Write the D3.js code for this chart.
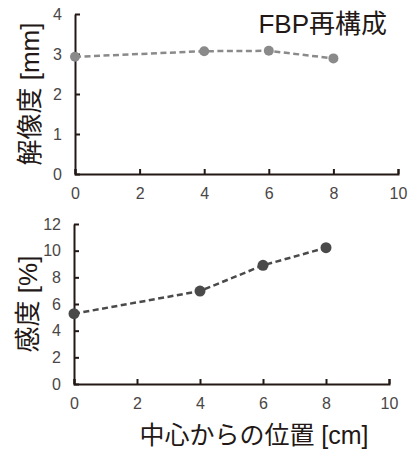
<!DOCTYPE html>
<html>
<head>
<meta charset="utf-8">
<script src="https://cdn.jsdelivr.net/npm/d3@7"></script>
<style>
  body { margin: 0; background: #fff; }
  text { font-family: "Liberation Sans", Arial, "Noto Sans CJK JP", sans-serif; }
</style>
</head>
<body>
<div id="chart"></div>
<script>
// positions from center [cm]
const positions = [0, 4, 6, 8];
const resolution = [2.93, 3.07, 3.08, 2.89];   // mm
const sensitivity = [5.27, 6.97, 8.9, 10.22];  // %
const xTicks = [0, 2, 4, 6, 8, 10];
const resTicks = [0, 1, 2, 3, 4];
const sensTicks = [0, 2, 4, 6, 8, 10, 12];

const W = 417, H = 452;
const axisColor = '#231815';
const textColor = '#231815';
const tickColor = '#4a4646';
const labelFont = '"Liberation Sans", Arial, "Noto Sans CJK JP", sans-serif';

const svg = d3.select('#chart').append('svg')
    .attr('width', W)
    .attr('height', H);

function panel(cfg) {
    const x = d3.scaleLinear().domain([0, 10]).range([cfg.x0, cfg.x1]);
    const y = d3.scaleLinear().domain(cfg.yDomain).range([cfg.y0, cfg.y1]);
    const g = svg.append('g');

    // x axis, ticks pointing inward
    const xa = g.append('g')
        .attr('transform', `translate(0,${cfg.y0})`)
        .call(d3.axisBottom(x).tickValues(xTicks).tickFormat(d3.format('d'))
            .tickSizeInner(-5).tickSizeOuter(-5).tickPadding(14));
    // y axis
    const ya = g.append('g')
        .attr('transform', `translate(${cfg.x0},0)`)
        .call(d3.axisLeft(y).tickValues(cfg.yTicks).tickFormat(d3.format('d'))
            .tickSizeInner(-5).tickSizeOuter(0).tickPadding(13));

    [xa, ya].forEach(a => {
        a.select('.domain').attr('stroke', axisColor).attr('stroke-width', 2);
        a.selectAll('.tick line').attr('stroke', axisColor).attr('stroke-width', 2);
        a.selectAll('.tick text')
            .attr('fill', tickColor)
            .attr('font-size', '16px')
            .attr('font-family', labelFont);
    });

    const line = d3.line()
        .x((d, i) => x(positions[i]))
        .y(d => y(d));

    g.append('path')
        .datum(cfg.values)
        .attr('d', line)
        .attr('fill', 'none')
        .attr('stroke', cfg.color)
        .attr('stroke-width', 2.5)
        .attr('stroke-dasharray', '6,3.5');

    g.selectAll('circle')
        .data(cfg.values)
        .enter()
        .append('circle')
        .attr('cx', (d, i) => x(positions[i]))
        .attr('cy', d => y(d))
        .attr('r', cfg.r)
        .attr('fill', cfg.color);

    g.append('text')
        .attr('transform', `translate(${cfg.labelX},${(cfg.y0 + cfg.y1) / 2}) rotate(-90)`)
        .attr('text-anchor', 'middle')
        .attr('fill', textColor)
        .attr('font-size', '26px')
        .attr('font-family', labelFont)
        .text(cfg.label);
}

panel({
    x0: 75, x1: 398, y0: 174, y1: 14,
    yDomain: [0, 4], yTicks: resTicks,
    values: resolution, color: '#8a8a8a', r: 5,
    label: '解像度 [mm]', labelX: 39
});

panel({
    x0: 74, x1: 389, y0: 384, y1: 224,
    yDomain: [0, 12], yTicks: sensTicks,
    values: sensitivity, color: '#4a4a4a', r: 5.5,
    label: '感度 [%]', labelX: 37
});

svg.append('text')
    .attr('x', 387)
    .attr('y', 33)
    .attr('text-anchor', 'end')
    .attr('fill', textColor)
    .attr('font-size', '26px')
    .attr('font-family', labelFont)
    .text('FBP再構成');

svg.append('text')
    .attr('x', 254)
    .attr('y', 444)
    .attr('text-anchor', 'middle')
    .attr('fill', textColor)
    .attr('font-size', '25px')
    .attr('font-family', labelFont)
    .text('中心からの位置 [cm]');
</script>
</body>
</html>
